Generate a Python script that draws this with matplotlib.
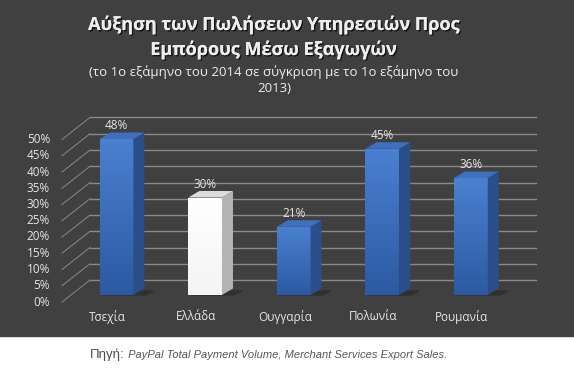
#!/usr/bin/env python3
"""Greek PayPal export-sales growth chart, drawn as a pseudo-3D column chart."""

import numpy as np
import matplotlib
matplotlib.use("Agg")
import matplotlib.pyplot as plt
from matplotlib.patches import Polygon, Rectangle
from matplotlib.colors import LinearSegmentedColormap
import matplotlib.patheffects as pe


# =============================================================================
# Data
# =============================================================================

countries = ["Τσεχία", "Ελλάδα", "Ουγγαρία", "Πολωνία", "Ρουμανία"]
growth_pct = [48, 30, 21, 45, 36]
highlight = [False, True, False, False, False]

y_ticks = [0, 5, 10, 15, 20, 25, 30, 35, 40, 45, 50]
y_max_axis = 55

title_lines = ["Αύξηση των Πωλήσεων Υπηρεσιών Προς", "Εμπόρους Μέσω Εξαγωγών"]
subtitle_lines = ["(το 1ο εξάμηνο του 2014 σε σύγκριση με το 1ο εξάμηνο του",
                  "2013)"]
source_label = "Πηγή:"
source_text = " PayPal Total Payment Volume, Merchant Services Export Sales."


# =============================================================================
# Style
# =============================================================================

W, H = 574, 370
BG = "#404040"
GRID = "#8a8a8a"
TXT = "#e6e6e6"
FONT = ["Open Sans", "DejaVu Sans"]

BLUE_TOP = "#3f70bf"
BLUE_SIDE = "#2a4e8a"
WHITE_TOP = "#dcdcdc"
WHITE_SIDE = "#b4b4b4"

blue_grad = LinearSegmentedColormap.from_list("bg", ["#2c5aa2", "#4a80d1"])
white_grad = LinearSegmentedColormap.from_list("wg", ["#f4f4f4", "#ffffff"])

BAR_W = 0.38            # in category units
DEPTH_BAR = (11, 6.5)   # pixel depth of a column (x, y)
BACK = (19, 15)         # plane -> back wall, pixels
FRONT = (-9, -7)        # plane -> front axis, pixels


fig = plt.figure(figsize=(W / 100, H / 100), dpi=100)
fig.patch.set_facecolor("white")
fig.add_artist(Rectangle((0, 1 - 336 / H), 1, 336 / H,
                         transform=fig.transFigure, color=BG, zorder=0))

# plane of the columns: left edge 71 px, right 517 px; 0% at 295 px from top
ax = fig.add_axes([71 / W, (H - 295) / H, (517 - 71) / W, 3.25 * y_max_axis / H])
ax.set_axis_off()
ax.patch.set_alpha(0)
ax.set_xlim(-0.514, 4.52)
ax.set_ylim(0, y_max_axis)

p0 = ax.transData.transform((0, 0))
px_x = ax.transData.transform((1, 0))[0] - p0[0]
px_y = ax.transData.transform((0, 1))[1] - p0[1]


def shift(x, y, dx, dy):
    return x + dx / px_x, y + dy / px_y


x0, x1 = ax.get_xlim()

# back wall gridlines and side-wall diagonals
for v in y_ticks:
    a = shift(x0, v, *BACK)
    b = shift(x1, v, *BACK)
    ax.plot([a[0], b[0]], [a[1], b[1]], color=GRID, lw=1, zorder=1,
            clip_on=False)
    f = shift(x0, v, *FRONT)
    ax.plot([f[0], a[0]], [f[1], a[1]], color=GRID, lw=0.7, zorder=1,
            clip_on=False)

# tick labels at the front axis
for v in y_ticks:
    tx, ty = shift(x0, v, FRONT[0] - 12, FRONT[1])
    ax.text(tx, ty, f"{v}%", ha="right", va="center", color=TXT,
            fontsize=8.5, family=FONT, clip_on=False)

# columns
xs = np.arange(len(countries))
for x, v, hl in zip(xs, growth_pct, highlight):
    left, right = x - BAR_W / 2, x + BAR_W / 2
    grad = white_grad if hl else blue_grad
    top_c = WHITE_TOP if hl else BLUE_TOP
    side_c = WHITE_SIDE if hl else BLUE_SIDE

    # soft shadow on the floor
    sh = [shift(left, 0, 2, 0), shift(right, 0, 12, 0),
          shift(right, 0, 20, 4), shift(left, 0, 10, 4)]
    ax.add_patch(Polygon(sh, closed=True, color="#303030", zorder=2,
                         clip_on=False))

    front = Rectangle((left, 0), BAR_W, v, facecolor="none",
                      edgecolor="none", zorder=3)
    ax.add_patch(front)
    img = ax.imshow(np.linspace(0, 1, 64).reshape(-1, 1), cmap=grad,
                    extent=(left, right, 0, v), origin="lower",
                    aspect="auto", zorder=3)
    img.set_clip_path(front)

    side = [(right, 0), (right, v), shift(right, v, *DEPTH_BAR),
            shift(right, 0, *DEPTH_BAR)]
    ax.add_patch(Polygon(side, closed=True, facecolor=side_c,
                         edgecolor="none", zorder=3, clip_on=False))
    top = [(left, v), (right, v), shift(right, v, *DEPTH_BAR),
           shift(left, v, *DEPTH_BAR)]
    ax.add_patch(Polygon(top, closed=True, facecolor=top_c,
                         edgecolor="none", zorder=3, clip_on=False))

    lx, ly = shift(x, v, 0, 13)
    ax.text(lx, ly, f"{v}%", ha="center", va="center", color=TXT,
            fontsize=8.5, family=FONT, clip_on=False, zorder=4)

    cx, cy = shift(x, 0, -9, -22)
    ax.text(cx, cy, countries[x], ha="center", va="center", color=TXT,
            fontsize=8.5, family=FONT, clip_on=False)

ax.set_xlim(x0, x1)
ax.set_ylim(0, y_max_axis)

# titles
shadow = [pe.withSimplePatchShadow(offset=(1, -1), shadow_rgbFace="black",
                                   alpha=0.7), pe.Normal()]
for i, line in enumerate(title_lines):
    fig.text(273 / W, 1 - (25 + 25 * i) / H, line, ha="center", va="center",
             color="#eeeeee", fontsize=13, fontweight="bold", family=FONT,
             path_effects=shadow)
for i, line in enumerate(subtitle_lines):
    fig.text(274 / W, 1 - (72 + 16 * i) / H, line, ha="center", va="center",
             color="#eeeeee", fontsize=9.5, family=FONT)

# source line below the dark panel
t1 = fig.text(90 / W, 1 - 355 / H, source_label, ha="left", va="center",
              color="#4d4d4d", fontsize=9.5, family="Liberation Sans")
fig.canvas.draw()
bb = t1.get_window_extent()
fig.text(bb.x1 / W, 1 - 355 / H, source_text, ha="left", va="center",
         color="#555555", fontsize=8, style="italic", family="Liberation Sans")

fig.savefig("out.png", dpi=100, facecolor=fig.get_facecolor())
